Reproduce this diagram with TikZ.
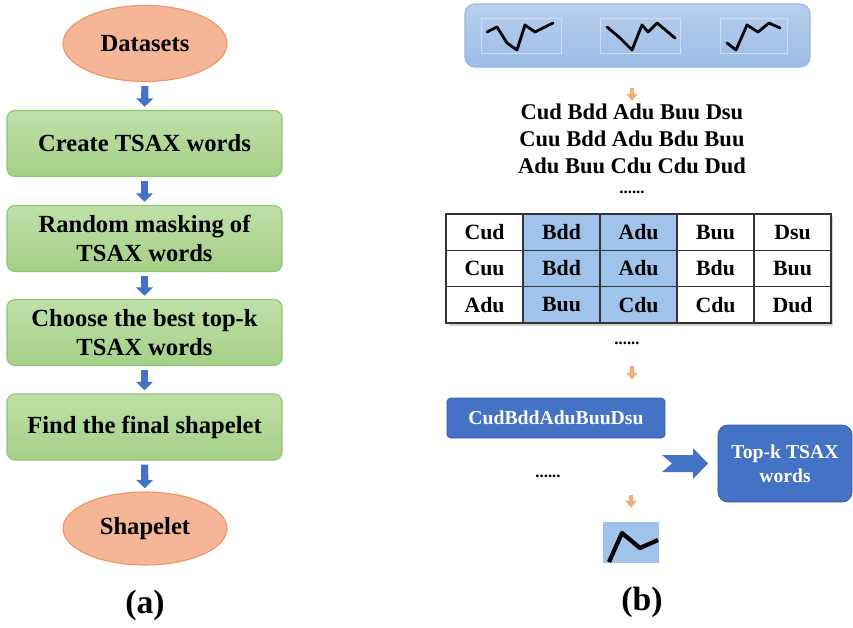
\documentclass[tikz,border=0pt]{standalone}
\usepackage{fontspec}
\setmainfont{Liberation Serif}
\usetikzlibrary{arrows.meta,shapes.geometric}

\definecolor{ovalfill}{RGB}{245,182,152}
\definecolor{ovalline}{RGB}{240,150,105}
\definecolor{greentop}{RGB}{190,224,168}
\definecolor{greenbot}{RGB}{165,208,135}
\definecolor{greenline}{RGB}{145,198,115}
\definecolor{flowblue}{RGB}{68,114,196}
\definecolor{darkline}{RGB}{55,95,170}
\definecolor{paneltop}{RGB}{185,207,236}
\definecolor{panelbot}{RGB}{155,188,230}
\definecolor{panelline}{RGB}{150,184,226}
\definecolor{tblue}{RGB}{160,195,235}
\definecolor{arrorange}{RGB}{244,170,125}

\begin{document}
\begin{tikzpicture}[x=0.025cm,y=-0.025cm,
    oval/.style={ellipse, draw=ovalline, line width=0.8pt, fill=ovalfill, minimum width=4.1cm, minimum height=1.9cm, font=\bfseries\fontsize{17.5}{21}\selectfont},
    stepbox/.style={draw=greenline, line width=0.8pt, top color=greentop, bottom color=greenbot, rounded corners=0.2cm, minimum width=6.875cm, minimum height=1.65cm, align=center, font=\bfseries\fontsize{17.5}{21}\selectfont},
    flow/.style={draw=flowblue, line width=5pt, -{Triangle[width=12pt,length=6pt]}, shorten <=0.1cm, shorten >=0.08cm},
    oarrow/.style={draw=arrorange, line width=3pt, -{Triangle[width=8pt,length=5pt]}},
    darkbox/.style={draw=darkline, line width=0.6pt, fill=flowblue, text=white, align=center, font=\bfseries\fontsize{14}{17}\selectfont},
    cell/.style={draw=black!80, line width=0.9pt, minimum width=1.925cm, minimum height=0.908cm, font=\bfseries\fontsize{15.5}{18}\selectfont},
    dots/.style={inner sep=1pt, font=\bfseries\fontsize{12}{14}\selectfont},
    chart/.style={line width=2pt, line join=round, line cap=round},
    minibox/.style={draw=paneltop!70!white, line width=0.6pt},
    caption/.style={font=\bfseries\fontsize{24}{28}\selectfont}
]
\useasboundingbox (0,0) rectangle (853,627);

% (a) flow chart
\node[oval] (ds) at (145,43.5) {Datasets};
\node[stepbox] (create) at (144.5,143.5) {Create TSAX words};
\node[stepbox] (mask) at (144.5,238.5) {Random masking of\\TSAX words};
\node[stepbox] (topk) at (144.5,332.5) {Choose the best top-k\\TSAX words};
\node[stepbox] (final) at (144.5,427) {Find the final shapelet};
\node[oval, minimum height=1.825cm] (shp) at (145,528.5) {Shapelet};

\draw[flow] (ds) -- (create);
\draw[flow] (create) -- (mask);
\draw[flow] (mask) -- (topk);
\draw[flow] (topk) -- (final);
\draw[flow] (final) -- (shp);

\node[caption] (capa) at (145,605) {(a)};

% (b) words and masking
\node[draw=panelline, line width=0.8pt, top color=paneltop, bottom color=panelbot, rounded corners=0.25cm,
      minimum width=8.625cm, minimum height=1.575cm] (panel) at (637.5,35.5) {};
\draw[minibox] (481,18) rectangle (561,53);
\draw[minibox] (600,18) rectangle (680,53);
\draw[minibox] (720,18) rectangle (787,53);
\draw[chart] (487,32) -- (497,27) -- (507,43) -- (517,50) -- (525,25) -- (535,32) -- (553,23);
\draw[chart] (607,27) -- (620,38) -- (632,50) -- (642,25) -- (648,32) -- (657,23) -- (675,38);
\draw[chart] (727,43) -- (736,50) -- (747,25) -- (758,32) -- (769,23) -- (780,28);

\node[align=center, inner sep=0pt, font=\bfseries\fontsize{16}{19}\selectfont] (words) at (632,139)
    {Cud Bdd Adu Buu Dsu\\Cuu Bdd Adu Bdu Buu\\Adu Buu Cdu Cdu Dud};
\node[dots] (wdots) at (632,192) {......};
\draw[oarrow, shorten <=0.5cm, shorten >=0.08cm] (panel.south -| words.north) -- (words.north);

% table
\fill[black!18] (449,217) rectangle (833,326);
\foreach \r/\row in {1/{Cud,Bdd,Adu,Buu,Dsu},2/{Cuu,Bdd,Adu,Bdu,Buu},3/{Adu,Buu,Cdu,Cdu,Dud}} {
  \foreach \w [count=\c] in \row {
    \ifnum\c>1 \ifnum\c<4 \def\cf{tblue}\else\def\cf{white}\fi\else\def\cf{white}\fi
    \node[cell, fill=\cf] (c-\r-\c) at ({446+77*(\c-0.5)},{214+36.33*(\r-0.5)}) {\w};
  }
}
\node[dots] (tdots) at (627,343) {......};

\node[darkbox, rounded corners=0.1cm, minimum width=5.45cm, minimum height=1cm] (cudbox) at (556,418) {CudBddAduBuuDsu};
\node[darkbox, rounded corners=0.25cm, minimum width=3.35cm, minimum height=1.925cm] (topwords) at (785,463.5) {Top-k TSAX\\words};
\node[dots] (ldots) at (548,476) {......};

\draw[oarrow, shorten <=0.5cm, shorten >=0.45cm] (632,0 |- tdots.south) -- (632,0 |- cudbox.north);

% notched arrow into the result box
\fill[flowblue] (662,455) -- (693,455) -- (693,448) -- (708,463.5) -- (693,479) -- (693,472) -- (662,472) -- (672,463.5) -- cycle;

% shapelet found
\node[fill=tblue, minimum width=1.4cm, minimum height=1.025cm, inner sep=0pt] (found) at (631,542.5) {};
\draw[line width=3pt, line join=round] (609,562) -- (622,533) -- (640,548) -- (658,540);
\draw[oarrow, shorten <=1.425cm, shorten >=0.35cm] (found |- cudbox.south) -- (found.north);

\node[caption] (capb) at (642,602) {(b)};
\end{tikzpicture}
\end{document}
